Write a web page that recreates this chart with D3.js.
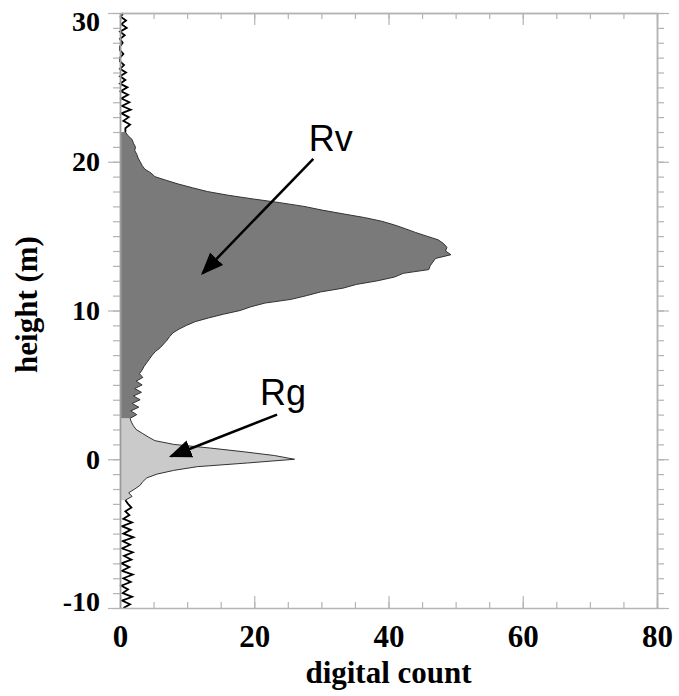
<!DOCTYPE html>
<html>
<head>
<meta charset="utf-8">
<script src="https://cdn.jsdelivr.net/npm/d3@7"></script>
<style>
  html, body { margin: 0; padding: 0; background: #fff; }
  svg { display: block; }
</style>
</head>
<body>
<svg id="chart" width="679" height="696"></svg>
<script>
// Vertical return profile: digital count per 0.25 m height bin
const heights = d3.range(-10, 30.001, 0.25);
const counts = [
  0.5, 1.5, 0.3, 1.8,   // -10
  0.4, 1.2, 0.2, 1.6,   // -9
  0.5, 1.9, 0.3, 1.4,   // -8
  0.2, 1.7, 0.6, 1.9,   // -7
  0.3, 1.5, 0.4, 2.0,   // -6
  0.5, 1.6, 0.3, 1.8,   // -5
  0.5, 1.4, 0.8, 1.7,   // -4
  1.2, 0.8, 1.8, 1.3,   // -3
  2.2, 3.0, 3.4, 4.0,   // -2
  5.5, 8.0, 11.5, 19.0, // -1
  26.0, 23.0, 18.5, 13.5, // 0
  8.0, 5.2, 4.2, 3.3,   // 1
  2.4, 2.0, 1.7, 1.5,   // 2
  2.5, 1.6, 2.8, 1.8,   // 3
  3.0, 2.0, 3.2, 2.2,   // 4
  3.3, 2.4, 3.4, 2.9,   // 5
  3.3, 3.6, 4.0, 4.4,   // 6
  4.8, 5.3, 6.0, 6.5,   // 7
  7.0, 7.4, 7.9, 8.8,   // 8
  9.9, 11.2, 13.2, 15.4, // 9
  17.9, 19.5, 21.6, 25.5, // 10
  27.8, 29.9, 33.2, 35.2, // 11
  38.4, 40.9, 42.2, 46.0, // 12
  46.2, 46.6, 47.0, 49.3, // 13
  48.5, 48.7, 48.2, 47.4, // 14
  45.7, 44.0, 42.5, 40.9, // 15
  39.0, 36.4, 33.2, 30.1, // 16
  27.4, 23.8, 19.8, 16.1, // 17
  13.0, 10.8, 8.7, 6.9,   // 18
  5.2, 4.6, 3.7, 3.3,     // 19
  3.0, 2.7, 2.5, 2.2,     // 20
  2.3, 2.0, 1.8, 1.2,     // 21
  0.8, 0.8, 1.5, 0.5,     // 22
  1.3, 0.2, 1.6, 0.3,     // 23
  1.4, 0.2, 1.2, 0.1,     // 24
  1.1, 0.0, 0.8, 0.0,     // 25
  0.9, 0.0, 0.6, 0.0,     // 26
  0.0, 0.5, 0.0, 0.0,     // 27
  0.4, 0.0, 0.7, 0.0,     // 28
  1.0, 0.2, 0.9, 0.1,     // 29
  0.5                     // 30
];

// Height ranges of the ground (Rg) and vegetation (Rv) returns
const groundRange = [-2.75, 2.75];
const vegetationRange = [2.75, 22];

const xTicks = [0, 20, 40, 60, 80];
const yTicks = [-10, 0, 10, 20, 30];
const xLabel = "digital count";
const yLabel = "height (m)";
// label position and arrow tip, in data units
const annotations = [
  { name: "Rv", text: [31.4, 20.7], from: [28.8, 20.2], tip: [12.3, 12.5] },
  { name: "Rg", text: [24.3, 3.65], from: [23.4, 3.0], tip: [7.6, 0.2] }
];

const svg = d3.select("#chart");
const x = d3.scaleLinear().domain([0, 80]).range([120, 657]);
const y = d3.scaleLinear().domain([-10, 30]).range([608, 13]);

const data = heights.map((h, i) => ({ h: +h.toFixed(2), c: counts[i] }));
const inRange = (r) => data.filter(d => d.h >= r[0] - 1e-9 && d.h <= r[1] + 1e-9);

const area = d3.area().y(d => y(d.h)).x0(x(0)).x1(d => x(d.c));
const line = d3.line().y(d => y(d.h)).x(d => x(d.c));

// Filled returns
svg.append("path").datum(inRange(groundRange))
  .attr("d", area).attr("fill", "#cacaca");
svg.append("path").datum(inRange(vegetationRange))
  .attr("d", area).attr("fill", "#7a7a7a");

// Outline over the filled parts
svg.append("path").datum(inRange([groundRange[0], vegetationRange[1]]))
  .attr("d", line).attr("fill", "none")
  .attr("stroke", "#333").attr("stroke-width", 1);

// Background noise below and above the returns
svg.append("path").datum(data.filter(d => d.h <= groundRange[0] + 1e-9))
  .attr("d", line).attr("fill", "none")
  .attr("stroke", "#000").attr("stroke-width", 1.8);
svg.append("path").datum(data.filter(d => d.h >= vegetationRange[1] - 1e-9))
  .attr("d", line).attr("fill", "none")
  .attr("stroke", "#000").attr("stroke-width", 1.8);

// Axes frame
const axisColor = "#b4b4b4";
function styleAxis(g) {
  g.selectAll("path.domain").attr("stroke", axisColor).attr("stroke-width", 1.5);
  g.selectAll(".tick line").attr("stroke", axisColor).attr("stroke-width", 1.2);
}
const xMinor = d3.range(0, 80.1, 5);
const yMinor = d3.range(-10, 30.1, 1);
const plain = d => String(d);

// bottom: inward ticks
svg.append("g").attr("transform", `translate(0,${y(-10)})`)
  .call(d3.axisBottom(x).tickValues(xMinor).tickSizeInner(-6).tickSizeOuter(0).tickFormat(""))
  .call(styleAxis);
const xAxis = svg.append("g").attr("transform", `translate(0,${y(-10)})`)
  .call(d3.axisBottom(x).tickValues(xTicks).tickSizeInner(-12).tickSizeOuter(0).tickPadding(17).tickFormat(plain))
  .call(styleAxis);
xAxis.select("path.domain").remove();

// top: inward ticks
svg.append("g").attr("transform", `translate(0,${y(30)})`)
  .call(d3.axisTop(x).tickValues(xMinor).tickSizeInner(-6).tickSizeOuter(0).tickFormat(""))
  .call(styleAxis);
svg.append("g").attr("transform", `translate(0,${y(30)})`)
  .call(d3.axisTop(x).tickValues(xTicks).tickSizeInner(-12).tickSizeOuter(0).tickFormat(""))
  .call(styleAxis);

// left: outward ticks
svg.append("g").attr("transform", `translate(${x(0)},0)`)
  .call(d3.axisLeft(y).tickValues(yMinor).tickSizeInner(7).tickSizeOuter(0).tickFormat(""))
  .call(styleAxis);
const yAxis = svg.append("g").attr("transform", `translate(${x(0)},0)`)
  .call(d3.axisLeft(y).tickValues(yTicks).tickSizeInner(12).tickSizeOuter(0).tickPadding(8).tickFormat(plain))
  .call(styleAxis);

// right: outward ticks
svg.append("g").attr("transform", `translate(${x(80)},0)`)
  .call(d3.axisRight(y).tickValues(yMinor).tickSizeInner(7).tickSizeOuter(0).tickFormat(""))
  .call(styleAxis);
svg.append("g").attr("transform", `translate(${x(80)},0)`)
  .call(d3.axisRight(y).tickValues(yTicks).tickSizeInner(12).tickSizeOuter(0).tickFormat(""))
  .call(styleAxis);

const serif = "'Liberation Serif', 'Times New Roman', serif";
xAxis.selectAll("text")
  .attr("font-family", serif).attr("font-weight", "bold").attr("font-size", 31).attr("fill", "#000");
yAxis.selectAll("text")
  .attr("font-family", serif).attr("font-weight", "bold").attr("font-size", 28).attr("fill", "#000");
// keep the end labels inside the frame height
yAxis.selectAll(".tick").filter(d => d === 30).select("text").attr("dy", "0.62em");
yAxis.selectAll(".tick").filter(d => d === -10).select("text").attr("dy", "0.1em");
yAxis.select("path.domain").attr("stroke", "#9a9a9a");

svg.append("text").text(xLabel)
  .attr("x", x(40)).attr("y", 683).attr("text-anchor", "middle")
  .attr("font-family", serif).attr("font-weight", "bold").attr("font-size", 31);
svg.append("text").text(yLabel)
  .attr("transform", `translate(37,${y(10) - 6}) rotate(-90)`).attr("text-anchor", "middle")
  .attr("font-family", serif).attr("font-weight", "bold").attr("font-size", 31);

// Annotation arrows
const defs = svg.append("defs");
defs.append("marker").attr("id", "head")
  .attr("viewBox", "0 0 10 10").attr("refX", 9).attr("refY", 5)
  .attr("markerWidth", 9).attr("markerHeight", 9).attr("orient", "auto")
  .attr("markerUnits", "strokeWidth")
  .append("path").attr("d", "M0,1 L10,5 L0,9 Z").attr("fill", "#000");

annotations.forEach(a => {
  svg.append("text").text(a.name)
    .attr("x", x(a.text[0])).attr("y", y(a.text[1])).attr("text-anchor", "middle")
    .attr("font-family", "'Liberation Sans', Arial, sans-serif").attr("font-size", 36).attr("fill", "#000");
  svg.append("line")
    .attr("x1", x(a.from[0])).attr("y1", y(a.from[1]))
    .attr("x2", x(a.tip[0])).attr("y2", y(a.tip[1]))
    .attr("stroke", "#000").attr("stroke-width", 2.5).attr("marker-end", "url(#head)");
});
</script>
</body>
</html>
